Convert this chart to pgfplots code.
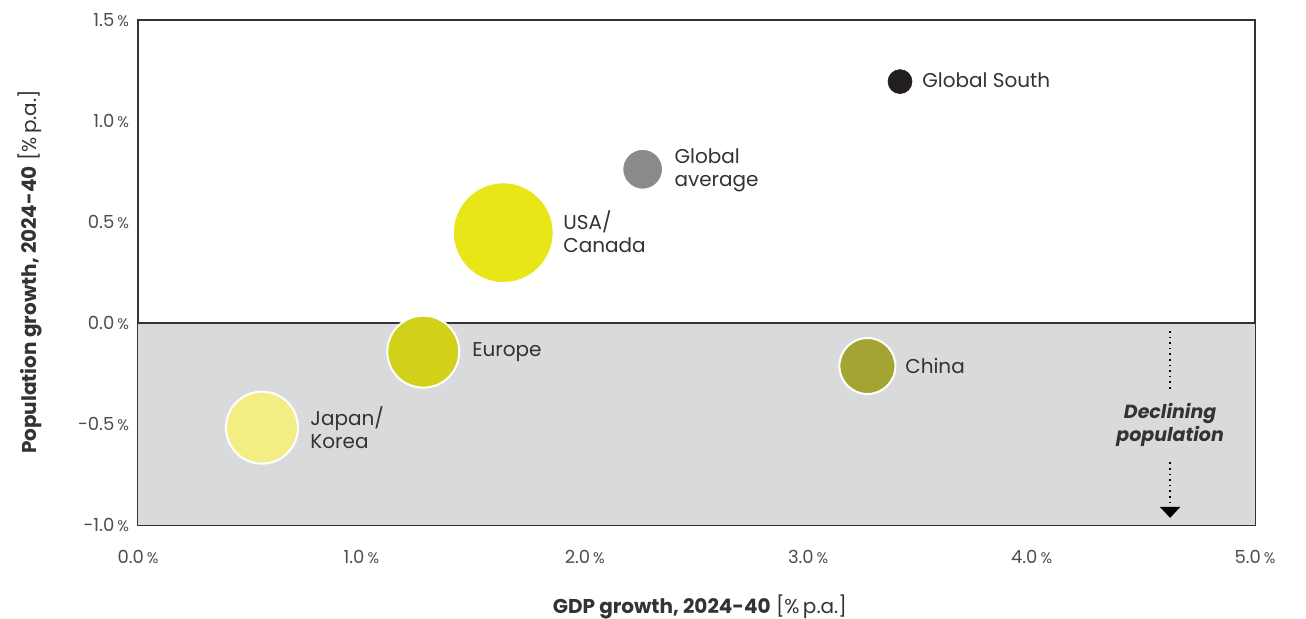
\documentclass[border=0pt]{standalone}
\usepackage{pgfplots}
\pgfplotsset{compat=1.18}
\usetikzlibrary{arrows.meta}
\usepackage{fontspec}
\setmainfont{Poppins}
\definecolor{cGS}{HTML}{231F20}
\definecolor{cGA}{HTML}{8A8A8D}
\definecolor{cUS}{HTML}{E8E617}
\definecolor{cEU}{HTML}{D1D11A}
\definecolor{cCN}{HTML}{A3A431}
\definecolor{cJK}{HTML}{F2EE84}
\definecolor{cShade}{HTML}{D9DADC}
\definecolor{txt}{HTML}{333333}
\definecolor{tick}{HTML}{4D4D4D}
\newcommand{\pct}{\,\scalebox{0.85}{\%}}
\begin{document}
\begin{tikzpicture}
\begin{axis}[
  at={(69pt,47pt)}, anchor=south west,
  width=558.5pt, height=252.5pt, scale only axis,
  xmin=0, xmax=5, ymin=-1, ymax=1.5,
  xtick={0,1,2,3,4,5},
  xticklabels={0.0\pct,1.0\pct,2.0\pct,3.0\pct,4.0\pct,5.0\pct},
  ytick={-1,-0.5,0,0.5,1,1.5},
  yticklabels={-1.0\pct,-0.5\pct,0.0\pct,0.5\pct,1.0\pct,1.5\pct},
  major tick length=0pt,
  xticklabel style={font=\fontsize{9}{10}\selectfont, text=tick, yshift=-9pt},
  yticklabel style={font=\fontsize{9}{10}\selectfont, text=tick, xshift=-1pt},
  axis line style={draw=txt, line width=0.6pt},
  clip=false,
]
\fill[cShade] (axis cs:0,-1) rectangle (axis cs:5,0);
\draw[txt, line width=0.6pt] (axis cs:0,0) -- (axis cs:5,0);

\addplot[only marks, mark=*, mark size=6pt, mark options={fill=cGS, draw=cGS, line width=0.3pt}] coordinates {(3.411,1.195)};
\addplot[only marks, mark=*, mark size=10pt, mark options={fill=cGA, draw=white, line width=0.6pt}] coordinates {(2.259,0.761)};
\addplot[only marks, mark=*, mark size=25pt, mark options={fill=cUS, draw=white, line width=0.6pt}] coordinates {(1.635,0.447)};
\addplot[only marks, mark=*, mark size=18pt, mark options={fill=cEU, draw=white, line width=1pt}] coordinates {(1.277,-0.142)};
\addplot[only marks, mark=*, mark size=14pt, mark options={fill=cCN, draw=white, line width=1pt}] coordinates {(3.265,-0.213)};
\addplot[only marks, mark=*, mark size=18pt, mark options={fill=cJK, draw=white, line width=1pt}] coordinates {(0.555,-0.518)};

\begin{scope}[every node/.style={font=\fontsize{10}{11.5}\selectfont, text=txt, anchor=west, inner sep=0pt, align=left}]
\node at (axis cs:3.509,1.2) {Global South};
\node at (axis cs:2.40,0.757) {Global\\average};
\node at (axis cs:1.902,0.45) {USA/\\Canada};
\node at (axis cs:1.495,-0.144) {Europe};
\node at (axis cs:3.433,-0.213) {China};
\node at (axis cs:0.770,-0.52) {Japan/\\Korea};
\end{scope}

\node[font=\fontsize{9.5}{11.5}\selectfont\bfseries\itshape, text=txt, align=center, inner sep=0pt] at (axis cs:4.62,-0.505) {Declining\\population};
\draw[black, line width=0.8pt, dotted] (axis cs:4.62,-0.04) -- (axis cs:4.62,-0.33);
\draw[black, line width=0.8pt, dotted] (axis cs:4.62,-0.69) -- (axis cs:4.62,-0.92);
\draw[black, -{Triangle[width=10pt,length=5.5pt]}, line width=0.8pt] (axis cs:4.62,-0.91) -- (axis cs:4.62,-0.965);

\node[font=\fontsize{10}{11}\selectfont, text=txt] at (rel axis cs:0.503,-0.162) {\textbf{GDP growth, 2024-40} [\%\,p.a.]};
\node[font=\fontsize{10}{11}\selectfont, text=txt, rotate=90] at (rel axis cs:-0.0967,0.501) {\textbf{Population growth, 2024-40} [\%\,p.a.]};
\end{axis}
\pgfresetboundingbox
\path[use as bounding box] (0,0) rectangle (653pt,309.5pt);
\end{tikzpicture}
\end{document}
